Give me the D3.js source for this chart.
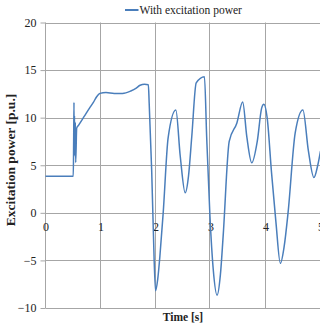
<!DOCTYPE html>
<html>
<head>
<meta charset="utf-8">
<script src="https://cdn.jsdelivr.net/npm/d3@7"></script>
<style>
  body { margin: 0; background: #fff; }
  svg { display: block; font-family: "Liberation Serif", "Times New Roman", serif; }
  .tick text { fill: #222; }
</style>
</head>
<body>
<div id="chart"></div>
<script>
// values
const time = [0, 0.505, 0.512, 0.518, 0.522, 0.527, 0.535, 0.542, 0.549, 0.567, 0.6, 0.7, 0.8, 0.87, 0.93, 0.99,
    1.1, 1.25, 1.4, 1.55, 1.65, 1.72, 1.8, 1.87, 1.885, 1.93, 1.96, 2.0, 2.04, 2.08, 2.14, 2.23, 2.37, 2.45, 2.54, 2.6,
    2.66, 2.74, 2.89, 2.93, 2.99, 3.05, 3.12, 3.18, 3.23, 3.34, 3.48, 3.585, 3.66, 3.75, 3.85, 3.93, 3.97, 4.03,
    4.11, 4.19, 4.27, 4.34, 4.41, 4.54, 4.68, 4.78, 4.88, 4.95, 5.0];
const power = [3.85, 3.85, 7.5, 11.6, 6.5, 10.2, 6.0, 9.5, 5.3, 8.9, 9.2, 10.1, 11.0, 11.6, 12.2, 12.55,
    12.65, 12.55, 12.55, 12.8, 13.1, 13.4, 13.5, 13.47, 11.55, 4.55, -1.75, -8.2, -7.0, -4.55, 0, 7.9, 10.8, 5.95, 2.1, 3.85,
    8.05, 13.65, 14.3, 8.05, -0.35, -5.95, -8.65, -6.5, -2.45, 7.5, 9.45, 11.65, 8.0, 5.25, 7.5, 11.0, 11.4, 10.0,
    4.2, -1.0, -5.3, -3.5, 0, 8.4, 10.8, 6.5, 3.7, 5.0, 6.5];
const xTicks = [0, 1, 2, 3, 4, 5];
const yTicks = [-10, -5, 0, 5, 10, 15, 20];
const seriesName = "With excitation power";

const width = 320, height = 325;
const lineColor = "#4a7ebb", gridColor = "#a6a6a6";
const serif = "Liberation Serif";

const svg = d3.select("#chart").append("svg")
    .attr("width", width)
    .attr("height", height);

const x = d3.scaleLinear().domain([0, 5]).range([45.5, 320.5]);
const y = d3.scaleLinear().domain([-10, 20]).range([308, 22.5]);

// gridlines
svg.append("g").selectAll("line")
    .data(yTicks)
    .join("line")
    .attr("x1", x(0)).attr("x2", x(5))
    .attr("y1", d => Math.round(y(d)) + 0.5).attr("y2", d => Math.round(y(d)) + 0.5)
    .attr("stroke", gridColor);

svg.append("g").selectAll("line")
    .data(xTicks)
    .join("line")
    .attr("x1", d => Math.round(x(d)) - 0.5).attr("x2", d => Math.round(x(d)) - 0.5)
    .attr("y1", y(-10)).attr("y2", y(20))
    .attr("stroke", gridColor);

// y axis
let yAxis = svg.append("g")
    .attr("transform", `translate(${x(0)},0)`)
    .call(d3.axisLeft(y).tickValues(yTicks).tickFormat(d3.format("d")).tickSize(5).tickPadding(4))
    .attr("font-family", serif)
    .attr("font-size", 12);
yAxis.select(".domain").remove();
yAxis.selectAll(".tick line").attr("stroke", gridColor);

// x axis labels sit under the zero line
let xAxis = svg.append("g")
    .attr("transform", `translate(0,${y(0)})`)
    .call(d3.axisBottom(x).tickValues(xTicks).tickFormat(d3.format("d")).tickSize(0).tickPadding(9.5))
    .attr("font-family", serif)
    .attr("font-size", 12);
xAxis.select(".domain").remove();

// the series
const pts = time.map((t, i) => [t, power[i]]);
svg.append("path")
    .datum(pts)
    .attr("fill", "none")
    .attr("stroke", lineColor)
    .attr("stroke-width", 1.5)
    .attr("d", d3.line().x(d => x(d[0])).y(d => y(d[1])).curve(d3.curveMonotoneX));

// titles
svg.append("text")
    .attr("x", 183)
    .attr("y", 321)
    .attr("text-anchor", "middle")
    .attr("font-family", serif)
    .attr("font-size", 11.5)
    .attr("font-weight", "bold")
    .attr("fill", "#222")
    .text("Time [s]");

svg.append("text")
    .attr("transform", "translate(14.5,160) rotate(-90)")
    .attr("text-anchor", "middle")
    .attr("font-family", serif)
    .attr("font-size", 13.5)
    .attr("font-weight", "bold")
    .attr("fill", "#222")
    .text("Excitation power [p.u.]");

// legend
let legend = svg.append("g");
legend.append("line")
    .attr("x1", 125).attr("x2", 138.5)
    .attr("y1", 10).attr("y2", 10)
    .attr("stroke", lineColor)
    .attr("stroke-width", 2);
legend.append("text")
    .attr("x", 139.5)
    .attr("y", 14)
    .attr("font-family", serif)
    .attr("font-size", 11.5)
    .attr("fill", "#222")
    .text(seriesName);
</script>
</body>
</html>
